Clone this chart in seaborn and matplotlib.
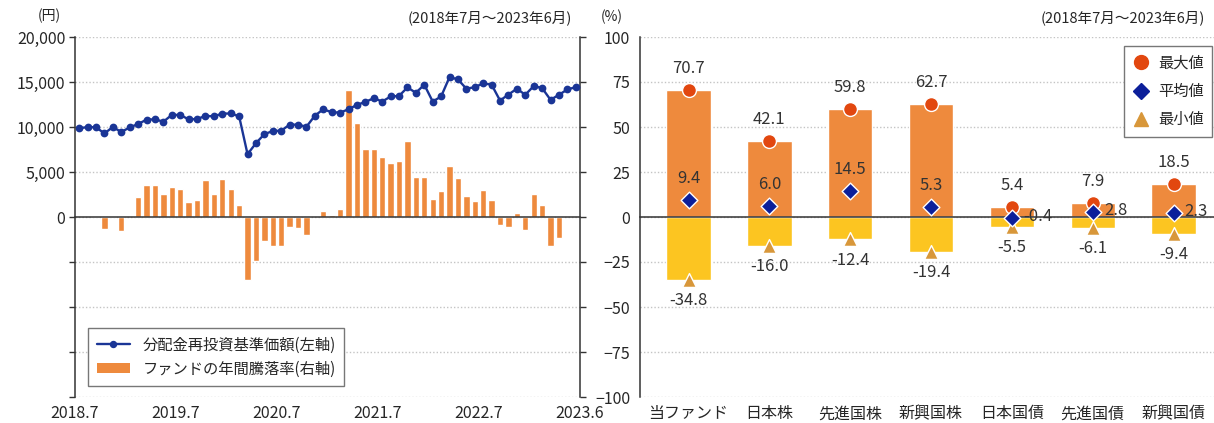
#!/usr/bin/env python3
# Fund NAV with annual returns, and return range vs. asset classes

import numpy as np
import pandas as pd
import seaborn as sns
import matplotlib.pyplot as plt
from matplotlib.lines import Line2D
from matplotlib.patches import Patch
from matplotlib.ticker import FuncFormatter, MultipleLocator

sns.set_style("white")
plt.rcParams['font.family'] = ['Noto Sans CJK JP', 'DejaVu Sans']

# monthly, 2018.7 - 2023.6
MONTHS = [f"{p.year}.{p.month}" for p in pd.period_range("2018-07", "2023-06", freq="M")]
NAV = [
    9850, 10000, 9960, 9290, 10000, 9440, 9960, 10330, 10820, 10850,
    10590, 11340, 11340, 10850, 10890, 11230, 11190, 11490, 11500, 11190,
    6980, 8200, 9210, 9550, 9590, 10260, 10260, 10030, 11260, 11970,
    11640, 11600, 11970, 12460, 12790, 13200, 12830, 13390, 13450, 14400,
    13800, 14700, 12830, 13390, 15550, 15290, 14250, 14430, 14850, 14700,
    12940, 13610, 14250, 13580, 14550, 14320, 13020, 13580, 14170, 14430,
]
RETURNS = [
    np.nan, np.nan, 0.3, -6.5, 0.3, -7.8, np.nan, 11.2, 17.7, 17.5,
    12.7, 16.8, 15.5, 8.2, 9.3, 20.5, 12.7, 20.9, 15.3, 6.5,
    -34.8, -24.4, -13.1, -15.9, -15.9, -5.6, -6.2, -9.9, np.nan, 3.5,
    1.1, 4.7, 70.7, 52.2, 37.7, 37.7, 33.4, 29.9, 31.0, 42.2,
    22.4, 22.4, 10.1, 14.4, 28.5, 21.5, 11.6, 9.0, 14.9, 9.5,
    -4.7, -5.8, 2.4, -7.1, 12.9, 6.9, -15.9, -11.4, np.nan, np.nan,
]
YEAR_TICKS = ["2018.7", "2019.7", "2020.7", "2021.7", "2022.7"]
LAST_TICK = "2023.6"

ASSETS = ["当ファンド", "日本株", "先進国株", "新興国株", "日本国債", "先進国債", "新興国債"]
MAX_RET = [70.7, 42.1, 59.8, 62.7, 5.4, 7.9, 18.5]
MEAN_RET = [9.4, 6.0, 14.5, 5.3, -0.4, 2.8, 2.3]
MIN_RET = [-34.8, -16.0, -12.4, -19.4, -5.5, -6.1, -9.4]

PERIOD = "(2018年7月～2023年6月)"

NAVY = "#1a3596"
DIAMOND = "#0c1f9a"
ORANGE = "#ee8a3d"
YELLOW = "#fcc521"
RED = "#e2470f"
TAN = "#d8973a"
GRID = "#c4c4c4"

W, H = 1214, 423
fig = plt.figure(figsize=(W / 100, H / 100), dpi=100)

# ---- left panel -----------------------------------------------------------
ax_bar = fig.add_axes([75 / W, 26 / H, 505 / W, 360 / H])
ax_nav = ax_bar.twinx()

df = pd.DataFrame({'month': MONTHS, 'nav': NAV, 'ret': RETURNS})
sns.barplot(data=df, x='month', y='ret', color=ORANGE, saturation=1,
            width=0.76, errorbar=None, ax=ax_bar)
sns.pointplot(data=df, x='month', y='nav', color=NAVY, markers='o',
              markersize=4.3, linewidth=1.7, errorbar=None, ax=ax_nav)

n = len(MONTHS)
ax_bar.set_xlim(-0.5, n - 0.5)
ax_bar.set_ylim(-100, 100)
ax_nav.set_ylim(-20000, 20000)

# nav on the left, % on the right
ax_nav.yaxis.tick_left()
ax_bar.yaxis.tick_right()
ax_nav.yaxis.set_major_locator(MultipleLocator(5000))
ax_nav.yaxis.set_major_formatter(FuncFormatter(lambda v, _: f"{v:,.0f}" if v >= 0 else ""))
ax_bar.yaxis.set_major_locator(MultipleLocator(25))
ax_nav.tick_params(axis='y', direction='out', length=4, width=1, color='#333', pad=3, labelsize=11.5)
ax_bar.tick_params(axis='y', direction='out', length=4, width=1, color='#333', labelright=False)
ax_nav.set_xlabel("")
ax_nav.set_ylabel("")
ax_bar.set_xlabel("")
ax_bar.set_ylabel("")

ax_bar.set_axisbelow(True)
ax_bar.yaxis.grid(True, linestyle=(0, (1, 1.5)), color=GRID, linewidth=1)
ax_nav.grid(False)

for side in ('top', 'left'):
    ax_bar.spines[side].set_visible(False)
for side in ('top', 'bottom', 'right'):
    ax_nav.spines[side].set_visible(False)
ax_bar.spines['bottom'].set_position(('data', 0))
for sp in list(ax_bar.spines.values()) + list(ax_nav.spines.values()):
    sp.set_color('#333')
    sp.set_linewidth(1.1)

bounds = [MONTHS.index(m) - 0.5 for m in YEAR_TICKS[1:]]
ax_bar.set_xticks(bounds, labels=[""] * len(bounds))
ax_bar.tick_params(axis='x', direction='out', length=4, width=1, color='#333')

sec = ax_bar.secondary_xaxis('bottom')
lab_pos = [MONTHS.index(m) - 0.5 for m in YEAR_TICKS] + [MONTHS.index(LAST_TICK) + 0.5]
sec.set_xticks(lab_pos, labels=YEAR_TICKS + [LAST_TICK])
sec.tick_params(length=0, pad=6, labelsize=11.5)
sec.spines['bottom'].set_visible(False)

ax_nav.text(-0.05, 1.058, "(円)", transform=ax_nav.transAxes, ha='center', va='center', fontsize=10)
ax_nav.text(0.984, 1.053, PERIOD, transform=ax_nav.transAxes, ha='right', va='center', fontsize=10.5)

handles = [Line2D([], [], color=NAVY, marker='o', markersize=4.3, linewidth=1.7),
           Patch(facecolor=ORANGE, edgecolor='none')]
leg = ax_nav.legend(handles, ["分配金再投資基準価額(左軸)", "ファンドの年間騰落率(右軸)"],
                    loc='lower left', bbox_to_anchor=(0.026, 0.031), borderaxespad=0,
                    fontsize=11, frameon=True, fancybox=False, edgecolor='#777',
                    framealpha=1, handlelength=2.2, borderpad=0.55, labelspacing=0.45)
leg.get_frame().set_linewidth(1)

# ---- right panel ----------------------------------------------------------
ax_r = fig.add_axes([640 / W, 26 / H, 574 / W, 360 / H])
dfr = pd.DataFrame({'asset': ASSETS, 'max': MAX_RET, 'mean': MEAN_RET, 'min': MIN_RET})

sns.barplot(data=dfr, x='asset', y='max', color=ORANGE, saturation=1,
            width=0.55, errorbar=None, ax=ax_r)
sns.barplot(data=dfr, x='asset', y='min', color=YELLOW, saturation=1,
            width=0.55, errorbar=None, ax=ax_r)
sns.stripplot(data=dfr, x='asset', y='max', color=RED, marker='o', size=10,
              jitter=False, edgecolor='white', linewidth=1, ax=ax_r, zorder=3)
sns.stripplot(data=dfr, x='asset', y='min', color=TAN, marker='^', size=10,
              jitter=False, edgecolor='white', linewidth=1, ax=ax_r, zorder=3)
sns.stripplot(data=dfr, x='asset', y='mean', color=DIAMOND, marker='D', size=8.5,
              jitter=False, edgecolor='white', linewidth=1, ax=ax_r, zorder=4)

for i, (hi, mu, lo) in enumerate(zip(MAX_RET, MEAN_RET, MIN_RET)):
    ax_r.annotate(f"{hi:.1f}", (i, hi), xytext=(0, 15.5), textcoords='offset points',
                  ha='center', va='center', fontsize=12, color='#333')
    if hi - mu < 20:
        ax_r.annotate(f"{mu:.1f}", (i, mu), xytext=(8, 1), textcoords='offset points',
                      ha='left', va='center', fontsize=12, color='#333')
    else:
        ax_r.annotate(f"{mu:.1f}", (i, mu), xytext=(0, 15.5), textcoords='offset points',
                      ha='center', va='center', fontsize=12, color='#333')
    ax_r.annotate(f"{lo:.1f}", (i, lo), xytext=(0, -15), textcoords='offset points',
                  ha='center', va='center', fontsize=12, color='#333')

ax_r.set_xlim(-0.6, len(ASSETS) - 0.5)
ax_r.set_ylim(-100, 100)
ax_r.set_xlabel("")
ax_r.set_ylabel("")
ax_r.yaxis.set_major_locator(MultipleLocator(25))
ax_r.tick_params(axis='y', direction='out', length=4, width=1, color='#333', pad=3, labelsize=11.5)
ax_r.set_axisbelow(True)
ax_r.yaxis.grid(True, linestyle=(0, (1, 1.5)), color=GRID, linewidth=1)

for side in ('top', 'right'):
    ax_r.spines[side].set_visible(False)
ax_r.spines['bottom'].set_position(('data', 0))
for sp in ax_r.spines.values():
    sp.set_color('#333')
    sp.set_linewidth(1.1)

cat_bounds = [i + 0.5 for i in range(len(ASSETS) - 1)]
ax_r.set_xticks(cat_bounds, labels=[""] * len(cat_bounds))
ax_r.tick_params(axis='x', direction='out', length=4, width=1, color='#333')

sec_r = ax_r.secondary_xaxis('bottom')
sec_r.set_xticks(range(len(ASSETS)), labels=ASSETS)
sec_r.tick_params(length=0, pad=6, labelsize=11.5)
sec_r.spines['bottom'].set_visible(False)

ax_r.text(-0.049, 1.056, "(%)", transform=ax_r.transAxes, ha='center', va='center', fontsize=10)
ax_r.text(0.984, 1.053, PERIOD, transform=ax_r.transAxes, ha='right', va='center', fontsize=10.5)

r_handles = [Line2D([], [], linestyle='none', marker='o', color=RED, markersize=10),
             Line2D([], [], linestyle='none', marker='D', color=DIAMOND, markersize=8.5),
             Line2D([], [], linestyle='none', marker='^', color=TAN, markersize=10)]
leg_r = ax_r.legend(r_handles, ["最大値", "平均値", "最小値"], loc='upper right',
                    bbox_to_anchor=(0.997, 0.975), borderaxespad=0, fontsize=11,
                    frameon=True, fancybox=False, edgecolor='#777', framealpha=1,
                    handlelength=1.2, handletextpad=0.5, borderpad=0.55, labelspacing=0.75)
leg_r.get_frame().set_linewidth(1)

fig.savefig("out.png", dpi=100)
